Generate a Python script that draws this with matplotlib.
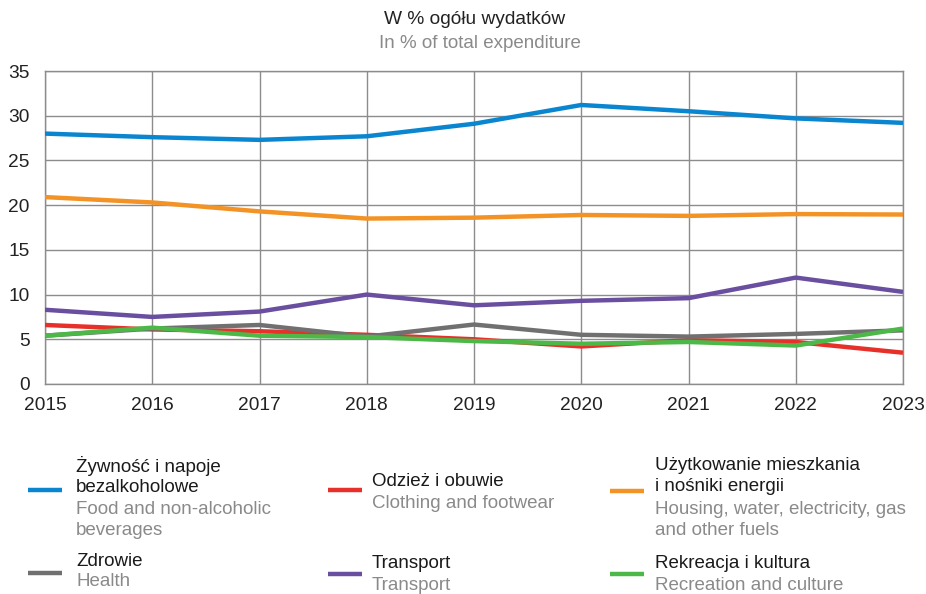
import matplotlib
matplotlib.use("Agg")
import matplotlib.pyplot as plt
from matplotlib.lines import Line2D

plt.rcParams['font.family'] = ['Liberation Sans', 'DejaVu Sans']

years = [2015, 2016, 2017, 2018, 2019, 2020, 2021, 2022, 2023]
food = [28.0, 27.6, 27.3, 27.7, 29.1, 31.2, 30.5, 29.7, 29.2]
clothing = [6.6, 6.1, 5.9, 5.5, 5.0, 4.2, 4.9, 4.7, 3.5]
housing = [20.9, 20.3, 19.3, 18.5, 18.6, 18.9, 18.8, 19.0, 18.95]
health = [5.4, 6.2, 6.6, 5.3, 6.65, 5.5, 5.3, 5.6, 6.0]
transport = [8.3, 7.5, 8.1, 10.0, 8.8, 9.3, 9.6, 11.9, 10.3]
recreation = [5.4, 6.3, 5.4, 5.25, 4.8, 4.5, 4.7, 4.3, 6.2]

series_pl = ["Żywność i napoje\nbezalkoholowe", "Odzież i obuwie", "Użytkowanie mieszkania\ni nośniki energii",
             "Zdrowie", "Transport", "Rekreacja i kultura"]
series_en = ["Food and non-alcoholic\nbeverages", "Clothing and footwear", "Housing, water, electricity, gas\nand other fuels",
             "Health", "Transport", "Recreation and culture"]
values = [food, clothing, housing, health, transport, recreation]
colors = ["#0a86d0", "#e8302a", "#f39325", "#707070", "#6a4fa0", "#4cb848"]
draw_order = [0, 2, 4, 1, 3, 5]

W, H = 926, 594
fig = plt.figure(figsize=(W / 100, H / 100), dpi=100)
ax = fig.add_axes([45 / W, 1 - 384 / H, (903 - 45) / W, (384 - 71) / H])

for i in draw_order:
    ax.plot(years, values[i], color=colors[i], lw=3.2, solid_capstyle='butt', zorder=3 + i)

ax.set_xlim(2015, 2023)
ax.set_ylim(0, 35)
ax.set_xticks(years)
ax.set_yticks(range(0, 36, 5))
ax.grid(True, color="#8c8c8c", lw=1)
ax.tick_params(length=0, labelsize=13.8, colors="#222222")
ax.tick_params(axis='y', pad=11)
ax.tick_params(axis='x', pad=9)
for s in ax.spines.values():
    s.set_color("#8c8c8c")
    s.set_linewidth(1)

fig.text(475 / W, 1 - 20 / H, "W % ogółu wydatków", ha='center', va='center', fontsize=13.8, color="#222222")
fig.text(480 / W, 1 - 43 / H, "In % of total expenditure", ha='center', va='center', fontsize=13.5, color="#8a8a8a")

# custom legend
cols_x = [(28, 76), (328, 372), (610, 655)]
rows = [
    # (line_y, pl_y, en_y)
    [(490, 476, 520), (490, 481, 503), (491, 476, 520)],
    [(573, 562, 582), (574, 563, 585), (574, 563, 585)],
]
for idx in range(6):
    r, c = divmod(idx, 3)
    lx, tx = cols_x[c]
    ly, py, ey = rows[r][c]
    fig.add_artist(Line2D([lx / W, (lx + 34) / W], [1 - ly / H, 1 - ly / H],
                          color=colors[idx], lw=3.2, solid_capstyle='butt'))
    fig.text(tx / W, 1 - py / H, series_pl[idx], ha='left', va='center', fontsize=13.5,
             color="#1a1a1a", linespacing=1.3)
    fig.text(tx / W, 1 - ey / H, series_en[idx], ha='left', va='center', fontsize=13.5,
             color="#8a8a8a", linespacing=1.3)

fig.savefig("out.png", dpi=100, facecolor="white")
